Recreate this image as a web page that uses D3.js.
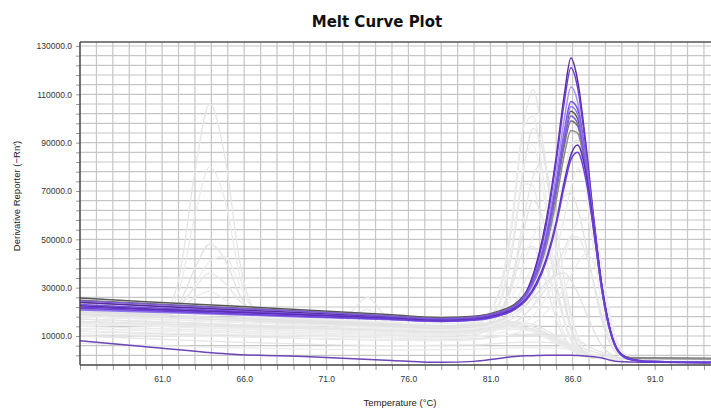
<!DOCTYPE html>
<html>
<head>
<meta charset="utf-8">
<script src="https://cdn.jsdelivr.net/npm/d3@7"></script>
<style>
  html, body { margin: 0; padding: 0; background: #fff; }
  svg { display: block; }
</style>
</head>
<body>
<svg id="chart" width="711" height="408"></svg>
<script>
// ---------- DATA ----------
const title = "Melt Curve Plot";
const xLabel = "Temperature (°C)";
const yLabel = "Derivative Reporter (\u2212Rn')";
const xTickLabels = [61, 66, 71, 76, 81, 86, 91];
const yTickLabels = [10000, 30000, 50000, 70000, 90000, 110000, 130000];

// temperature grids
const tempA = [56, 62, 68, 74, 78, 80, 81.5, 82.3, 83, 83.6, 84.2, 84.9, 85.6, 86.3, 87, 87.8, 88.6, 90, 94.5];
const tempB = [56, 60, 65, 70, 75, 78, 80, 81.5, 82.5, 83.2, 83.8, 84.4, 85, 85.5, 85.9, 86.3, 86.8, 87.3, 87.8, 88.3, 88.8, 89.5, 91, 94.5];
const tempC = [56, 59, 61, 62, 63, 63.9, 64.8, 65.8, 67, 70, 75, 78, 80, 82, 83.5, 85, 86.5, 88, 89, 94.5];
const tempD = [56, 62, 68, 71, 72.5, 73.5, 74.5, 76, 78, 80, 82, 83.5, 85, 86.5, 88, 89, 94.5];
const tempE = [56, 65, 75, 80, 83, 85.5, 87.5, 89, 94.5];

// purple wells (on tempB)
const purpleWells = [
  [24000, 22500, 21000, 19400, 17800, 16800, 17400, 19500, 22500, 28500, 40000, 58000, 84000, 110000, 125000, 116000, 90000, 58000, 30000, 12000, 3500, 500, -600, -900],
  [22000, 21000, 19800, 18600, 17300, 16400, 17000, 19000, 22000, 27500, 38500, 56000, 82000, 107000, 121000, 113000, 88000, 57000, 29500, 12000, 3500, 400, -700, -1000],
  [21000, 20200, 19200, 18000, 16800, 16000, 16600, 18500, 21500, 27000, 37000, 53000, 77000, 100000, 113000, 107000, 84000, 55000, 28500, 11500, 3300, 300, -500, -800],
  [23000, 21800, 20400, 19000, 17500, 16600, 17200, 19200, 22200, 27500, 36500, 51000, 73000, 95000, 107000, 104000, 84000, 56000, 29500, 12000, 3500, 400, -600, -900],
  [20800, 19900, 18900, 17800, 16700, 16000, 16500, 18300, 21200, 26500, 35000, 49000, 71000, 93000, 105000, 102000, 82000, 55000, 29000, 12000, 3500, 400, -500, -800],
  [24500, 23200, 21600, 20000, 18200, 17200, 17800, 19800, 22700, 27800, 36000, 50000, 71000, 91000, 101000, 98000, 80000, 54000, 28500, 11500, 3400, 300, -600, -900],
  [22500, 21300, 20000, 18700, 17300, 16400, 16900, 18800, 21500, 25500, 32000, 42000, 57000, 74000, 85000, 89000, 78000, 55000, 30000, 12500, 3800, 500, -800, -1100],
  [21500, 20500, 19300, 18100, 16900, 16100, 16600, 18400, 21000, 25000, 31000, 41000, 56000, 72000, 83000, 86000, 75000, 53000, 29000, 12000, 3600, 400, -800, -1000]
];
// low purple well (on tempB)
const purpleLow = [8000, 5600, 2600, 1400, -100, -900, -500, 700, 1500, 1800, 1900, 2000, 2000, 2000, 2000, 1900, 1700, 1400, 900, 0, -600, -800, -900, -1000];

// dark gray wells (on tempB)
const darkWells = [
  [25700, 24200, 22500, 20700, 18800, 17600, 18200, 20300, 23300, 28500, 37000, 51000, 72000, 93000, 103000, 100000, 82000, 55000, 29000, 12000, 3600, 1000, 800, 700],
  [24800, 23400, 21800, 20100, 18300, 17200, 17800, 19900, 22800, 28000, 36000, 49000, 69000, 89000, 99000, 97000, 80000, 54000, 28500, 11800, 3600, 1000, 800, 700],
  [23800, 22600, 21100, 19500, 17800, 16900, 17400, 19400, 22300, 27200, 34500, 47000, 66000, 85000, 95000, 94000, 78000, 53000, 28000, 11500, 3500, 900, 700, 600]
];

// light wells peaking near 83.5 (on tempA)
const lightWellsA = [
  [19000, 17500, 16000, 14500, 13500, 14500, 27000, 55000, 97000, 112000, 90000, 50000, 20000, 6000, 2000, 1000, 800, 600, 500],
  [17000, 15600, 14200, 13000, 12200, 13500, 28000, 58000, 96000, 101000, 76000, 38000, 14000, 4000, 1500, 900, 700, 500, 400],
  [20000, 18400, 16800, 15300, 14300, 15200, 23000, 44000, 78000, 96000, 86000, 52000, 22000, 7000, 2500, 1200, 900, 700, 600],
  [15000, 13800, 12600, 11500, 10800, 12000, 22000, 46000, 80000, 89000, 70000, 36000, 13000, 4000, 1500, 800, 600, 500, 400],
  [18000, 16600, 15200, 13900, 13000, 13800, 19500, 33000, 58000, 76000, 82000, 60000, 29000, 10000, 3000, 1300, 900, 700, 600],
  [14000, 12800, 11700, 10700, 10100, 11500, 23000, 47000, 73000, 72000, 50000, 24000, 9000, 3000, 1200, 700, 500, 400, 300],
  [16000, 14800, 13600, 12500, 11800, 12600, 18500, 32000, 53000, 66000, 58000, 34000, 14000, 4500, 1600, 900, 700, 500, 400],
  [21000, 19300, 17600, 16000, 15000, 15600, 19000, 26000, 39000, 51000, 57000, 46000, 25000, 9000, 3000, 1300, 900, 700, 600],
  [13000, 12000, 11000, 10000, 9400, 10400, 17000, 30000, 45000, 47000, 36000, 19000, 7500, 2500, 1000, 600, 400, 300, 200],
  [12000, 11100, 10200, 9300, 8800, 9400, 13000, 20000, 31000, 38000, 39000, 29000, 14000, 5000, 1800, 800, 500, 400, 300]
];

// light wells peaking near 86 (on tempB)
const lightWellsB = [
  [17000, 16000, 14800, 13600, 12400, 11700, 12300, 14500, 18000, 23000, 30000, 41000, 58000, 76000, 89000, 91000, 80000, 58000, 33000, 15000, 5000, 1200, 500, 400],
  [15000, 14100, 13000, 12000, 11000, 10400, 11000, 12800, 15500, 19500, 25000, 33000, 45000, 59000, 71000, 79000, 76000, 60000, 38000, 18000, 6500, 1500, 600, 400],
  [19000, 17900, 16600, 15300, 14000, 13200, 13800, 16000, 19500, 25000, 33000, 44000, 58000, 68000, 69000, 63000, 48000, 31000, 16000, 6500, 2200, 700, 500, 400],
  [13000, 12300, 11400, 10600, 9800, 9300, 9800, 11200, 13200, 16000, 20000, 26000, 34000, 43000, 51000, 57000, 59000, 50000, 33000, 17000, 6500, 1500, 600, 400],
  [16000, 15100, 14000, 12900, 11800, 11200, 11700, 13500, 16000, 19500, 24000, 30000, 38000, 46000, 51000, 51000, 44000, 32000, 18000, 8000, 2800, 800, 500, 400],
  [11000, 10400, 9700, 9000, 8400, 8000, 8400, 9600, 11000, 13000, 16000, 20000, 25000, 30000, 35000, 40000, 44000, 40000, 28000, 14000, 5000, 1200, 500, 300],
  [20000, 18800, 17400, 16000, 14700, 13900, 14400, 16500, 19500, 23000, 27500, 32000, 35500, 36000, 33000, 28000, 20000, 12000, 6000, 2500, 1000, 500, 400, 300],
  [18000, 16900, 15700, 14500, 13300, 12500, 13100, 15500, 19500, 26000, 36000, 52000, 75000, 94000, 100000, 94000, 72000, 45000, 22000, 8500, 2500, 700, 500, 400]
];

// light wells peaking near 64 (on tempC)
const lightWellsC = [
  [20000, 19200, 19500, 33000, 78000, 106000, 85000, 38000, 18500, 17000, 15000, 14000, 14500, 16000, 15000, 10000, 4000, 1000, 500, 300],
  [19500, 18800, 19000, 28000, 60000, 80000, 67000, 33000, 18000, 16500, 14600, 13700, 14000, 15000, 14000, 9000, 3500, 900, 400, 300],
  [19000, 18300, 18500, 23000, 38000, 48000, 42000, 26000, 17500, 16000, 14200, 13300, 13800, 14500, 13000, 8000, 3000, 800, 400, 300],
  [18500, 17800, 18000, 21000, 31000, 41000, 43000, 30000, 18000, 15600, 13800, 13000, 13500, 14000, 12500, 7500, 2800, 800, 400, 300],
  [20500, 19600, 19700, 22500, 30000, 36000, 32000, 24000, 18500, 17000, 15200, 14200, 14600, 15500, 14000, 9000, 3500, 900, 400, 300],
  [18000, 17400, 17600, 20500, 26000, 28500, 25000, 20000, 16800, 15300, 13600, 12800, 13200, 13800, 12000, 7000, 2500, 700, 300, 200]
];

// light wells with a small bump near 73.5 (on tempD)
const lightWellsD = [
  [17000, 15500, 14000, 14500, 20000, 26000, 19000, 13000, 12000, 12500, 14000, 13000, 8500, 3500, 900, 400, 300],
  [15500, 14300, 13200, 13500, 17500, 21000, 16500, 12300, 11300, 11800, 13000, 12000, 8000, 3000, 800, 400, 300]
];

// low flat light wells (on tempE)
const lightWellsE = [
  [10000, 7600, 6000, 6300, 7500, 7000, 3000, 800, 500],
  [7000, 5200, 4200, 4500, 5200, 4800, 2000, 600, 400],
  [12000, 10000, 8300, 8800, 10800, 10200, 4000, 1000, 600]
];

// ---------- STYLES ----------
const purpleColors = ["#5a2b9e", "#6c3cd4", "#a290f0", "#7752e4", "#8f76ea", "#7d5ad8", "#5a2fb0", "#6b3fd8"];
const purpleLowColor = "#6d45b8";
const darkColors = ["#585858", "#6e6e6e", "#8c8c8c"];
const lightColors = ["#e6e6e6", "#ebebeb", "#e2e2e2", "#eeeeee"];

// ---------- CHART ----------
const svg = d3.select("#chart");
const L = 80, R = 711, T = 42, B = 365;

const x = d3.scaleLinear().domain([56, 94.43]).range([L, R]);
const y = d3.scaleLinear().domain([-2000, 131650]).range([B, T]);

const xGrid = d3.range(57, 95, 1);
const yGrid = d3.range(2000, 130001, 4000);

// grid
const g = svg.append("g");
g.selectAll(".vg").data(xGrid).join("line")
  .attr("x1", d => x(d)).attr("x2", d => x(d))
  .attr("y1", T).attr("y2", B)
  .attr("stroke", "#c6c6c6").attr("stroke-width", 1.2);
g.selectAll(".hg").data(yGrid).join("line")
  .attr("x1", L).attr("x2", R)
  .attr("y1", d => y(d)).attr("y2", d => y(d))
  .attr("stroke", "#c6c6c6").attr("stroke-width", 1.2);

// clip
svg.append("clipPath").attr("id", "clip")
  .append("rect").attr("x", L).attr("y", T).attr("width", R - L).attr("height", B - T);

const plot = svg.append("g").attr("clip-path", "url(#clip)");

const line = d3.line()
  .x(d => x(d[0])).y(d => y(d[1]))
  .curve(d3.curveMonotoneX);

function draw(temps, wells, colors, width) {
  wells.forEach((vals, i) => {
    const pts = temps.map((t, k) => [t, vals[k]]);
    plot.append("path").datum(pts)
      .attr("d", line)
      .attr("fill", "none")
      .attr("stroke", Array.isArray(colors) ? colors[i % colors.length] : colors)
      .attr("stroke-width", width)
      .attr("stroke-linejoin", "round");
  });
}

draw(tempC, lightWellsC, lightColors, 1.3);
draw(tempD, lightWellsD, lightColors, 1.3);
draw(tempE, lightWellsE, lightColors, 1.3);
draw(tempA, lightWellsA, lightColors, 1.3);
draw(tempB, lightWellsB, lightColors, 1.3);
draw(tempB, darkWells, darkColors, 1.5);
draw(tempB, [purpleLow], purpleLowColor, 1.5);
draw(tempB, purpleWells, purpleColors, 1.5);

// axes
const yAxis = d3.axisLeft(y).tickValues(yGrid).tickSize(4)
  .tickFormat(d => yTickLabels.includes(d) ? d3.format(".1f")(d) : "");
const xAxis = d3.axisBottom(x).tickValues(xGrid.concat([56])).tickSize(5)
  .tickFormat(d => xTickLabels.includes(d) ? d3.format(".1f")(d) : "");

const ya = svg.append("g").attr("transform", `translate(${L},0)`).call(yAxis);
const xa = svg.append("g").attr("transform", `translate(0,${B})`).call(xAxis);
[ya, xa].forEach(a => {
  a.select(".domain").remove();
  a.selectAll(".tick line").attr("stroke", "#9a9a9a");
  a.selectAll(".tick text")
    .attr("fill", "#333")
    .style("font-family", "'Liberation Sans', Arial, sans-serif")
    .style("font-size", "8.5px");
});
ya.selectAll(".tick text").attr("x", -8);
xa.selectAll(".tick text").attr("y", 11);

// frame lines
svg.append("line").attr("x1", L).attr("x2", R).attr("y1", T).attr("y2", T)
  .attr("stroke", "#555").attr("stroke-width", 1.5);
svg.append("line").attr("x1", L).attr("x2", L).attr("y1", T).attr("y2", B)
  .attr("stroke", "#444").attr("stroke-width", 1.5);
svg.append("line").attr("x1", L).attr("x2", R).attr("y1", B).attr("y2", B)
  .attr("stroke", "#444").attr("stroke-width", 1.5);

// title & labels
svg.append("text").attr("x", 377).attr("y", 27)
  .attr("text-anchor", "middle")
  .style("font-family", "'DejaVu Sans', Verdana, sans-serif")
  .style("font-weight", "bold").style("font-size", "15px")
  .attr("fill", "#111").text(title);

svg.append("text").attr("x", 400).attr("y", 406)
  .attr("text-anchor", "middle")
  .style("font-family", "'Liberation Sans', Arial, sans-serif")
  .style("font-size", "9.5px").attr("fill", "#222").text(xLabel);

svg.append("text")
  .attr("transform", "translate(20,196) rotate(-90)")
  .attr("text-anchor", "middle")
  .style("font-family", "'Liberation Sans', Arial, sans-serif")
  .style("font-size", "9.5px").attr("fill", "#222").text(yLabel);
</script>
</body>
</html>
